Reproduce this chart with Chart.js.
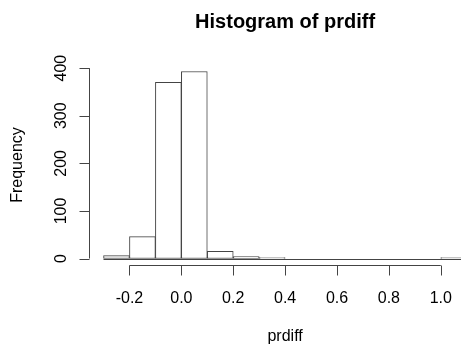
<!DOCTYPE html>
<html>
<head>
<meta charset="utf-8">
<script src="https://cdn.jsdelivr.net/npm/chart.js@4/dist/chart.umd.min.js"></script>
<style>
body { margin: 0; background: #fff; overflow: hidden; }
canvas { display: block; }
</style>
</head>
<body>
<canvas id="histChart" width="461" height="347"></canvas>
<script>
// histogram bins (width 0.1) and counts
var binStarts = [-0.3, -0.2, -0.1, 0.0, 0.1, 0.2, 0.3, 0.4, 0.5, 0.6, 0.7, 0.8, 0.9, 1.0];
var counts = [6, 46, 370, 393, 15, 4, 2, 0, 0, 0, 0, 0, 0, 2];
var binWidth = 0.1;
var xTicks = [-0.2, 0.0, 0.2, 0.4, 0.6, 0.8, 1.0];
var xTickLabels = ['-0.2', '0.0', '0.2', '0.4', '0.6', '0.8', '1.0'];
var yTicks = [0, 100, 200, 300, 400];
var titleText = 'Histogram of prdiff';
var xLabel = 'prdiff';
var yLabel = 'Frequency';

var font = '"Liberation Sans", Arial, sans-serif';

var points = binStarts.map(function (s, i) {
	return { x: s + binWidth / 2, y: counts[i] };
});

// draws R-style axes, labels and title using the chart scales
var rAxes = {
	id: 'rAxes',
	afterDraw: function (chart) {
		var ctx = chart.ctx;
		var xs = chart.scales.x;
		var ys = chart.scales.y;
		var area = chart.chartArea;
		ctx.save();
		ctx.strokeStyle = '#444';
		ctx.lineWidth = 1;
		ctx.fillStyle = '#000';

		// bottom edges of the bins (also the empty ones)
		var y0 = Math.round(ys.getPixelForValue(0)) + 0.5;
		ctx.beginPath();
		ctx.moveTo(xs.getPixelForValue(binStarts[0]), y0);
		ctx.lineTo(xs.getPixelForValue(binStarts[binStarts.length - 1] + binWidth), y0);
		ctx.stroke();

		// x axis
		var ax = Math.round(area.bottom) - 0.5;
		ctx.beginPath();
		ctx.moveTo(xs.getPixelForValue(xTicks[0]), ax);
		ctx.lineTo(xs.getPixelForValue(xTicks[xTicks.length - 1]), ax);
		xTicks.forEach(function (t) {
			var px = Math.round(xs.getPixelForValue(t)) + 0.5;
			ctx.moveTo(px, ax);
			ctx.lineTo(px, ax + 10);
		});
		ctx.stroke();
		ctx.font = '16px ' + font;
		ctx.textAlign = 'center';
		ctx.textBaseline = 'alphabetic';
		xTicks.forEach(function (t, i) {
			ctx.fillText(xTickLabels[i], xs.getPixelForValue(t), ax + 37);
		});

		// y axis
		var ay = Math.round(area.left) + 0.5;
		ctx.beginPath();
		ctx.moveTo(ay, ys.getPixelForValue(yTicks[0]));
		ctx.lineTo(ay, ys.getPixelForValue(yTicks[yTicks.length - 1]));
		yTicks.forEach(function (t) {
			var py = Math.round(ys.getPixelForValue(t)) + 0.5;
			ctx.moveTo(ay, py);
			ctx.lineTo(ay - 10, py);
		});
		ctx.stroke();
		yTicks.forEach(function (t) {
			ctx.save();
			ctx.translate(ay - 24, ys.getPixelForValue(t));
			ctx.rotate(-Math.PI / 2);
			ctx.fillText(String(t), 0, 0);
			ctx.restore();
		});

		// axis titles, centred on the full plot region (-0.356 .. 1.156)
		var midX = (xs.getPixelForValue(-0.356) + xs.getPixelForValue(1.156)) / 2;
		ctx.fillText(xLabel, midX, 341);
		ctx.save();
		ctx.translate(22, (area.top + area.bottom) / 2);
		ctx.rotate(-Math.PI / 2);
		ctx.fillText(yLabel, 0, 0);
		ctx.restore();

		// main title
		ctx.font = 'bold 20px ' + font;
		ctx.fillText(titleText, midX, 28);
		ctx.restore();
	}
};

var ctx = document.getElementById('histChart').getContext('2d');
var histChart = new Chart(ctx, {
	type: 'bar',
	data: {
		datasets: [{
			data: points,
			backgroundColor: '#fff',
			borderColor: '#444',
			borderWidth: 1,
			borderSkipped: false,
			barPercentage: 1,
			categoryPercentage: 1
		}]
	},
	options: {
		responsive: false,
		animation: false,
		devicePixelRatio: 1,
		layout: { padding: { left: 89, top: 64, right: 0, bottom: 81 } },
		plugins: {
			legend: { display: false },
			tooltip: { enabled: false },
			title: { display: false }
		},
		scales: {
			x: { type: 'linear', min: -0.356, max: 1.078, offset: false, display: false },
			y: { min: -15.7, max: 408.7, display: false }
		}
	},
	plugins: [rAxes]
});
</script>
</body>
</html>
